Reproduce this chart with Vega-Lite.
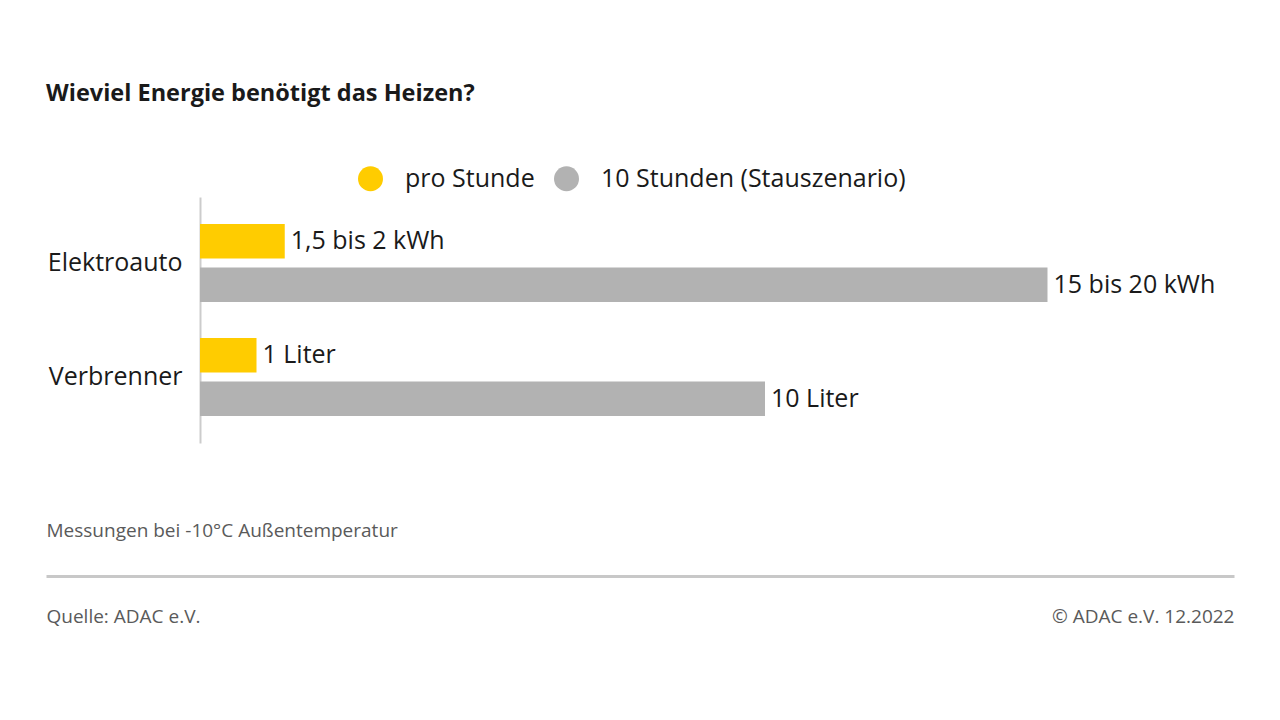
{
  "$schema": "https://vega.github.io/schema/vega-lite/v6.json",
  "width": 1188,
  "height": 246,
  "autosize": {"type": "none"},
  "padding": {"left": 46, "top": 197, "right": 46, "bottom": 277},
  "background": "white",
  "config": {
    "font": "Open Sans",
    "view": {"stroke": null}
  },
  "title": {
    "text": "Wieviel Energie benötigt das Heizen?",
    "anchor": "start",
    "frame": "group",
    "fontSize": 23.5,
    "fontWeight": "bold",
    "color": "#1a1a1a",
    "offset": 61
  },
  "data": {
    "values": [
      {"cat": "Elektroauto", "series": "pro Stunde", "value": 1.5, "label": "1,5 bis 2 kWh"},
      {"cat": "Elektroauto", "series": "10 Stunden (Stauszenario)", "value": 15, "label": "15 bis 20 kWh"},
      {"cat": "Verbrenner", "series": "pro Stunde", "value": 1, "label": "1 Liter"},
      {"cat": "Verbrenner", "series": "10 Stunden (Stauszenario)", "value": 10, "label": "10 Liter"}
    ]
  },
  "resolve": {"axis": {"y": "independent"}},
  "layer": [
    {
      "mark": {"type": "bar"},
      "encoding": {
        "y": {
          "field": "cat", "type": "nominal", "sort": ["Elektroauto", "Verbrenner"],
          "scale": {"paddingInner": 0, "paddingOuter": 0.079},
          "axis": {
            "orient": "left", "offset": -154, "ticks": false, "grid": false,
            "domainColor": "#cccccc", "domainWidth": 2,
            "labelFontSize": 25, "labelColor": "#1a1a1a", "labelPadding": 18,
            "title": "Quelle: ADAC e.V.", "titleAngle": 0, "titleX": -154, "titleY": 419,
            "titleAlign": "left", "titleBaseline": "middle", "titleFontSize": 19,
            "titleFontWeight": "normal", "titleColor": "#5a5a5a"
          }
        },
        "yOffset": {
          "field": "series", "type": "nominal", "sort": ["pro Stunde", "10 Stunden (Stauszenario)"],
          "scale": {"paddingInner": 0.207, "paddingOuter": 0.414}
        },
        "x": {
          "field": "value", "type": "quantitative",
          "scale": {"domain": [-2.7257, 18.3009], "nice": false, "zero": false},
          "axis": {
            "orient": "bottom", "offset": 133, "labels": false, "ticks": false, "grid": false,
            "domainColor": "#c8c8c8", "domainWidth": 3,
            "title": "Messungen bei -10°C Außentemperatur", "titleAnchor": "start",
            "titleAlign": "left", "titleX": 0, "titleY": -46, "titleBaseline": "middle",
            "titleFontSize": 19, "titleFontWeight": "normal", "titleColor": "#5a5a5a"
          }
        },
        "x2": {"datum": 0},
        "color": {
          "field": "series", "type": "nominal",
          "sort": ["pro Stunde", "10 Stunden (Stauszenario)"],
          "scale": {"domain": ["pro Stunde", "10 Stunden (Stauszenario)"], "range": ["#FFCC00", "#B2B2B2"]},
          "legend": {
            "orient": "none", "legendX": 312, "legendY": -31, "direction": "horizontal",
            "title": null, "symbolType": "circle", "symbolSize": 625, "symbolStrokeWidth": 0,
            "symbolOpacity": 1, "labelFontSize": 25, "labelColor": "#1a1a1a", "labelLimit": 600,
            "labelOffset": 22, "columnPadding": 19
          }
        }
      }
    },
    {
      "mark": {"type": "text", "align": "left", "baseline": "middle", "dx": 6, "fontSize": 25, "color": "#1a1a1a"},
      "encoding": {
        "y": {
          "field": "cat", "type": "nominal", "sort": ["Elektroauto", "Verbrenner"],
          "axis": {
            "orient": "right", "labels": false, "ticks": false, "domain": false, "grid": false,
            "title": "© ADAC e.V. 12.2022", "titleAngle": 0, "titleX": 0, "titleY": 419,
            "titleAlign": "right", "titleBaseline": "middle", "titleFontSize": 19,
            "titleFontWeight": "normal", "titleColor": "#5a5a5a"
          }
        },
        "yOffset": {"field": "series", "type": "nominal", "sort": ["pro Stunde", "10 Stunden (Stauszenario)"]},
        "x": {"field": "value", "type": "quantitative"},
        "text": {"field": "label"}
      }
    }
  ]
}
